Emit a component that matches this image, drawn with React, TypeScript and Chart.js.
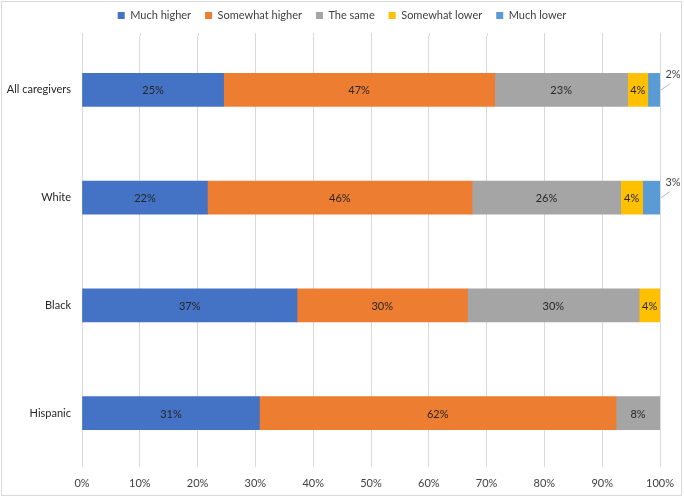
import { useEffect, useRef } from 'react';
import { Chart, registerables } from 'chart.js';
import type { Plugin } from 'chart.js';

Chart.register(...registerables);

const FONT = 'Lato, "Liberation Sans", sans-serif';

const categories = ['All caregivers', 'White', 'Black', 'Hispanic'];
const seriesNames = ['Much higher', 'Somewhat higher', 'The same', 'Somewhat lower', 'Much lower'];
const seriesColors = ['#4472C4', '#ED7D31', '#A5A5A5', '#FFC000', '#5B9BD5'];

// shares in percent, per category (each row adds up to 100)
const muchHigher = [24.5, 21.7, 37.2, 30.7];
const somewhatHigher = [46.9, 45.8, 29.5, 61.7];
const theSame = [23.0, 25.7, 29.7, 7.6];
const somewhatLower = [3.5, 3.8, 3.6, 0];
const muchLower = [2.1, 3.0, 0, 0];

const xTicks = [0, 10, 20, 30, 40, 50, 60, 70, 80, 90, 100];

// segments thinner than this get a callout label instead of an inside one
const OUTSIDE_MIN = 3.2;

const barLabels: Plugin<'bar'> = {
  id: 'barLabels',
  afterDatasetsDraw(chart) {
    const { ctx } = chart;
    ctx.save();
    ctx.font = `11px ${FONT}`;
    ctx.textAlign = 'center';
    ctx.textBaseline = 'middle';
    chart.data.datasets.forEach((ds, di) => {
      const meta = chart.getDatasetMeta(di);
      meta.data.forEach((el: any, i) => {
        const v = ds.data[i] as number;
        if (!v) return;
        const txt = `${Math.round(v)}%`;
        if (v >= OUTSIDE_MIN) {
          ctx.fillStyle = '#262626';
          ctx.fillText(txt, (el.x + el.base) / 2, el.y + 1);
        } else {
          const x = el.x;
          const y = el.y;
          ctx.strokeStyle = '#a6a6a6';
          ctx.lineWidth = 0.8;
          ctx.beginPath();
          ctx.moveTo(x + 1, y);
          ctx.lineTo(x + 10, y - 6);
          ctx.stroke();
          ctx.fillStyle = '#404040';
          ctx.fillText(txt, x + 13, y - 15);
        }
      });
    });
    ctx.restore();
  },
};

// gridlines in the reference start a few px above the first band
const gridTop: Plugin<'bar'> = {
  id: 'gridTop',
  beforeDatasetsDraw(chart) {
    const { ctx, chartArea } = chart;
    const xs = chart.scales.x;
    ctx.save();
    ctx.strokeStyle = '#d9d9d9';
    ctx.lineWidth = 1;
    xTicks.forEach((t) => {
      const px = Math.round(xs.getPixelForValue(t)) + 0.5;
      ctx.beginPath();
      ctx.moveTo(px, 33);
      ctx.lineTo(px, chartArea.top);
      ctx.stroke();
    });
    ctx.restore();
  },
};

const frame: Plugin<'bar'> = {
  id: 'frame',
  afterDraw(chart) {
    const { ctx } = chart;
    ctx.save();
    ctx.strokeStyle = '#d9d9d9';
    ctx.lineWidth = 1;
    ctx.strokeRect(1.5, 1.5, 680, 494);
    ctx.restore();
  },
};

const legendHeight: Plugin<'bar'> = {
  id: 'legendHeight',
  beforeInit(chart: any) {
    const fit = chart.legend.fit;
    chart.legend.fit = function () {
      fit.bind(chart.legend)();
      this.height = 40;
    };
  },
};

export default function App() {
  const canvasRef = useRef<HTMLCanvasElement>(null);

  useEffect(() => {
    if (!canvasRef.current) return;
    const values = [muchHigher, somewhatHigher, theSame, somewhatLower, muchLower];
    const chart = new Chart(canvasRef.current, {
      type: 'bar',
      data: {
        labels: categories,
        datasets: seriesNames.map((name, i) => ({
          label: name,
          data: values[i],
          backgroundColor: seriesColors[i],
          borderWidth: 0,
          barThickness: 33,
        })),
      },
      options: {
        indexAxis: 'y',
        animation: false,
        responsive: true,
        maintainAspectRatio: false,
        layout: { padding: { left: 0, right: 0, top: -4, bottom: 0 } },
        plugins: {
          legend: {
            position: 'top',
            labels: {
              boxWidth: 7,
              boxHeight: 7,
              padding: 14,
              color: '#404040',
              font: { family: FONT, size: 11 },
            },
          },
          tooltip: { enabled: false },
        },
        scales: {
          x: {
            stacked: true,
            min: 0,
            max: 100,
            afterBuildTicks: (scale) => {
              scale.ticks = xTicks.map((v) => ({ value: v }));
            },
            afterFit: (scale) => {
              scale.height = 30;
            },
            ticks: {
              padding: 10,
              color: '#404040',
              font: { family: FONT, size: 11 },
              callback: (v) => `${v}%`,
            },
            grid: { color: '#d9d9d9', drawTicks: false },
            border: { display: false },
          },
          y: {
            stacked: true,
            afterFit: (scale) => {
              scale.width = 82;
            },
            ticks: {
              padding: 11,
              color: '#262626',
              font: { family: FONT, size: 11 },
            },
            grid: { display: false, drawTicks: false },
            border: { display: false },
          },
          yRight: {
            type: 'category',
            position: 'right',
            afterFit: (scale) => {
              scale.width = 24;
            },
            ticks: { display: false },
            grid: { display: false, drawTicks: false },
            border: { display: false },
          },
        },
      },
      plugins: [barLabels, gridTop, frame, legendHeight],
    });
    return () => chart.destroy();
  }, []);

  return (
    <div style={{ position: 'fixed', left: 0, top: 0, width: 684, height: 497, background: '#fff' }}>
      <canvas ref={canvasRef} />
    </div>
  );
}
